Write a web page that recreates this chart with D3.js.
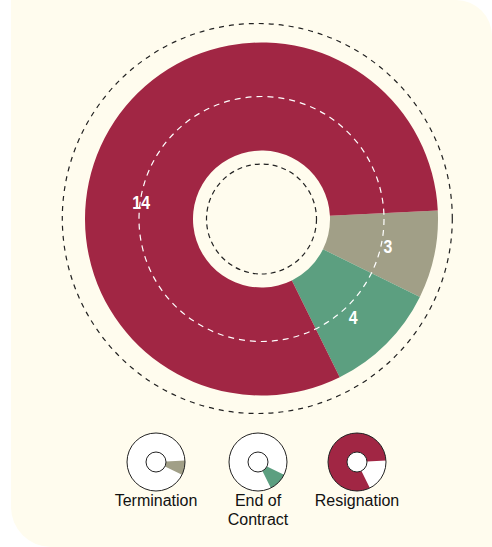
<!DOCTYPE html>
<html>
<head>
<meta charset="utf-8">
<script src="https://cdn.jsdelivr.net/npm/d3@7"></script>
<style>
  body { margin: 0; background: #fff; }
  svg { display: block; }
</style>
</head>
<body>
<div id="chart"></div>
<script>
// data
var categories = ["Termination", "End of Contract", "Resignation"];
var counts = [3, 4, 14];
// angular sweep of each slice as drawn (degrees), not proportional to counts
var sliceSweep = [29, 37.5, 293.5];
var legendLines = [["Termination"], ["End of", "Contract"], ["Resignation"]];
var colors = ["#a19f87", "#5c9f80", "#a12644"];

var width = 492, height = 547;
var cx = 261.5, cy = 219;
var startDeg = 87.2;
var rad = function(d) { return d * Math.PI / 180; };

var svg = d3.select("#chart").append("svg")
    .attr("width", width)
    .attr("height", height);

// cream card
svg.append("path")
    .attr("d", "M11,0 H456 A36,36 0 0 1 492,36 V547 H51 A40,40 0 0 1 11,507 Z")
    .attr("fill", "#fffcee");

var pie = d3.pie()
    .sort(null)
    .value(function(d) { return d.sweep; })
    .startAngle(rad(startDeg))
    .endAngle(rad(startDeg + 360));

var rows = categories.map(function(c, i) {
  return { name: c, count: counts[i], sweep: sliceSweep[i], color: colors[i] };
});
var arcs = pie(rows);

// main donut
var g = svg.append("g").attr("transform", "translate(" + cx + "," + cy + ")");
var arc = d3.arc().innerRadius(68.5).outerRadius(176.5);

g.selectAll("path.slice")
    .data(arcs)
    .enter().append("path")
    .attr("class", "slice")
    .attr("d", arc)
    .attr("fill", function(d) { return d.data.color; });

// dashed guides
g.append("circle")
    .attr("r", 122.5)
    .attr("fill", "none")
    .attr("stroke", "#fff")
    .attr("stroke-width", 1.2)
    .attr("stroke-dasharray", "6,5");

g.append("circle")
    .attr("r", 55)
    .attr("fill", "none")
    .attr("stroke", "#222")
    .attr("stroke-width", 1.2)
    .attr("stroke-dasharray", "5,4");

svg.append("circle")
    .attr("cx", 257.3)
    .attr("cy", 218.5)
    .attr("r", 195)
    .attr("fill", "none")
    .attr("stroke", "#222")
    .attr("stroke-width", 1.2)
    .attr("stroke-dasharray", "5,5");

// value labels
var labelArc = d3.arc().innerRadius(128).outerRadius(128);
g.selectAll("text.val")
    .data(arcs)
    .enter().append("text")
    .attr("class", "val")
    .attr("transform", function(d, i) {
      var p;
      if (i == 2) {
        // the big slice's label sits on the left
        var a = rad(278);
        p = [120 * Math.sin(a) - 1.5, -120 * Math.cos(a)];
      } else {
        p = labelArc.centroid(d);
        if (i == 1) p = [p[0] + 1, p[1] + 8];
        else p = [p[0] + 1, p[1] + 2];
      }
      return "translate(" + p[0] + "," + p[1] + ") scale(0.86,1)";
    })
    .attr("text-anchor", "middle")
    .attr("dominant-baseline", "central")
    .style("font-family", "'Liberation Sans', Arial, sans-serif")
    .style("font-weight", "bold")
    .style("font-size", "18.5px")
    .attr("fill", "#fff")
    .text(function(d) { return d.data.count; });

// legend: one mini donut per category
var legendX = [156, 258, 357];
var legendY = 462;
var miniArc = d3.arc().innerRadius(10).outerRadius(29);

rows.forEach(function(r, i) {
  var lg = svg.append("g")
      .attr("transform", "translate(" + legendX[i] + "," + legendY + ")");

  lg.append("circle").attr("r", 29).attr("fill", "#fff");

  lg.append("path")
      .attr("d", miniArc(arcs[i]))
      .attr("fill", r.color);

  lg.append("circle").attr("r", 29)
      .attr("fill", "none").attr("stroke", "#222").attr("stroke-width", 1);
  lg.append("circle").attr("r", 10)
      .attr("fill", "#fff").attr("stroke", "#222").attr("stroke-width", 1);

  var t = lg.append("text")
      .attr("text-anchor", "middle")
      .attr("y", 44)
      .style("font-family", "'Liberation Sans', Arial, sans-serif")
      .style("font-size", "16px")
      .attr("fill", "#111");
  legendLines[i].forEach(function(line, k) {
    t.append("tspan").attr("x", 0).attr("dy", k == 0 ? 0 : 19).text(line);
  });
});
</script>
</body>
</html>
